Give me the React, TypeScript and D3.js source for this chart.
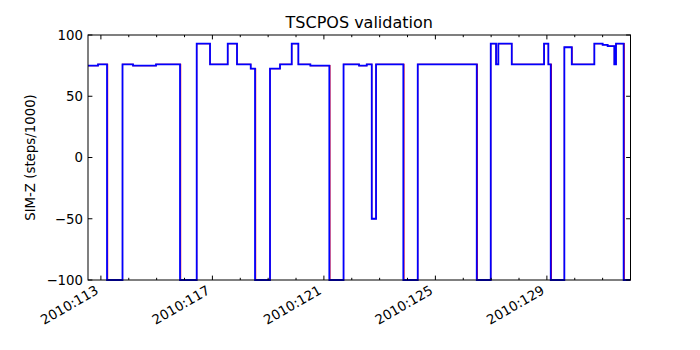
import React from "react";
import * as d3 from "d3";

// Day-of-year (2010) at which each step starts, and SIM-Z value (steps/1000)
const blueTimes = [112.537, 112.896, 113.219, 113.775, 114.152, 114.977, 115.838, 116.437, 116.915, 117.55, 117.883, 118.375, 118.529, 119.067, 119.426, 119.846, 120.084, 120.515, 121.195, 121.705, 122.261, 122.537, 122.717, 122.871, 123.85, 124.367, 126.484, 126.986, 127.177, 127.259, 127.74, 128.899, 129.053, 129.139, 129.627, 129.893, 130.703, 131.0, 131.18, 131.42, 131.48, 131.754, 132.0];
const blueValues = [75, 76, -100, 76, 75, 76, -100, 93, 76, 93, 76, 72.5, -100, 72.5, 76, 93, 76, 75, -100, 76, 75, 76, -50, 76, -100, 76, -100, 93, 76, 93, 76, 93, 76, -100, 90, 76, 93, 92, 91, 76, 93, -100, -100];

const redTimes = [112.537, 112.896, 113.242, 113.775, 114.152, 114.977, 115.862, 116.437, 116.915, 117.55, 117.883, 118.375, 118.552, 119.067, 119.426, 119.846, 120.084, 120.515, 121.218, 121.705, 122.261, 122.537, 122.717, 122.871, 123.873, 124.367, 126.507, 126.986, 127.177, 127.259, 127.74, 128.899, 129.053, 129.165, 129.627, 129.905, 130.703, 131.0, 131.18, 131.42, 131.48, 131.777, 132.0];
const redValues = [75, 76, -100, 76, 75, 76, -100, 93, 76, 93, 76, 72.5, -100, 72.5, 76, 93, 76, 75, -100, 76, 75, 76, -50, 76, -100, 76, -100, 93, 76, 93, 76, 93, 76, -100, 90, 76, 93, 92, 91, 76, 93, -100, -100];

const xDomain = [112.537, 132.0];
const yTicks = [-100, -50, 0, 50, 100];
const xMajorTicks = [113, 117, 121, 125, 129];
const xMajorLabels = ["2010:113", "2010:117", "2010:121", "2010:125", "2010:129"];
const xMinorTicks = [114, 115, 116, 118, 119, 120, 122, 123, 124, 126, 127, 128, 130, 131];

const W = 700, H = 350;
const left = 88, right = 630.5, top = 35, bottom = 280;
const FONT = "'DejaVu Sans', sans-serif";

export default function App() {
  const x = d3.scaleLinear().domain(xDomain).range([left, right]);
  const y = d3.scaleLinear().domain([-100, 100]).range([bottom, top]);
  const line = d3
    .line<[number, number]>()
    .x((d) => x(d[0]))
    .y((d) => y(d[1]))
    .curve(d3.curveStepAfter);
  const blue = blueTimes.map((t, i) => [t, blueValues[i]] as [number, number]);
  const red = redTimes.map((t, i) => [t, redValues[i]] as [number, number]);
  const maj = 4.4, mnr = 2.2;

  return (
    <div style={{ position: "absolute", left: 0, top: 0 }}>
      <svg width={W} height={H} style={{ display: "block", background: "#fff" }} fontFamily={FONT}>
        <defs>
          <clipPath id="plotclip">
            <rect x={left} y={top - 2} width={right - left} height={bottom - top + 4} />
          </clipPath>
        </defs>
        <g clipPath="url(#plotclip)">
          <path d={line(red) || ""} fill="none" stroke="#ff0000" strokeWidth={1.1} />
          <path d={line(blue) || ""} fill="none" stroke="#0000ff" strokeWidth={1.8} strokeLinejoin="miter" />
        </g>
        <rect x={left} y={top} width={right - left} height={bottom - top} fill="none" stroke="#000" strokeWidth={1} />
        {yTicks.map((v) => (
          <g key={"y" + v}>
            <line x1={left} x2={left + maj} y1={y(v)} y2={y(v)} stroke="#000" />
            <line x1={right} x2={right - maj} y1={y(v)} y2={y(v)} stroke="#000" />
            <text x={left - 5} y={y(v)} dy="0.36em" textAnchor="end" fontSize={13.33} fill="#000">
              {v < 0 ? "\u2212" + Math.abs(v) : String(v)}
            </text>
          </g>
        ))}
        {xMinorTicks.map((v) => (
          <g key={"m" + v}>
            <line x1={x(v)} x2={x(v)} y1={bottom} y2={bottom - mnr} stroke="#000" />
            <line x1={x(v)} x2={x(v)} y1={top} y2={top + mnr} stroke="#000" />
          </g>
        ))}
        {xMajorTicks.map((v, i) => (
          <g key={"x" + v}>
            <line x1={x(v)} x2={x(v)} y1={bottom} y2={bottom - maj} stroke="#000" />
            <line x1={x(v)} x2={x(v)} y1={top} y2={top + maj} stroke="#000" />
            <text
              transform={`translate(${x(v) - 1.5},${bottom + 4.4 + 8.7}) rotate(-30)`}
              textAnchor="end"
              fontSize={13.33}
              fill="#000"
            >
              {xMajorLabels[i]}
            </text>
          </g>
        ))}
        <text x={(left + right) / 2} y={28} textAnchor="middle" fontSize={16} fill="#000">
          TSCPOS validation
        </text>
        <text
          transform={`translate(35,${(top + bottom) / 2}) rotate(-90)`}
          textAnchor="middle"
          fontSize={13.33}
          fill="#000"
        >
          SIM-Z (steps/1000)
        </text>
      </svg>
    </div>
  );
}
